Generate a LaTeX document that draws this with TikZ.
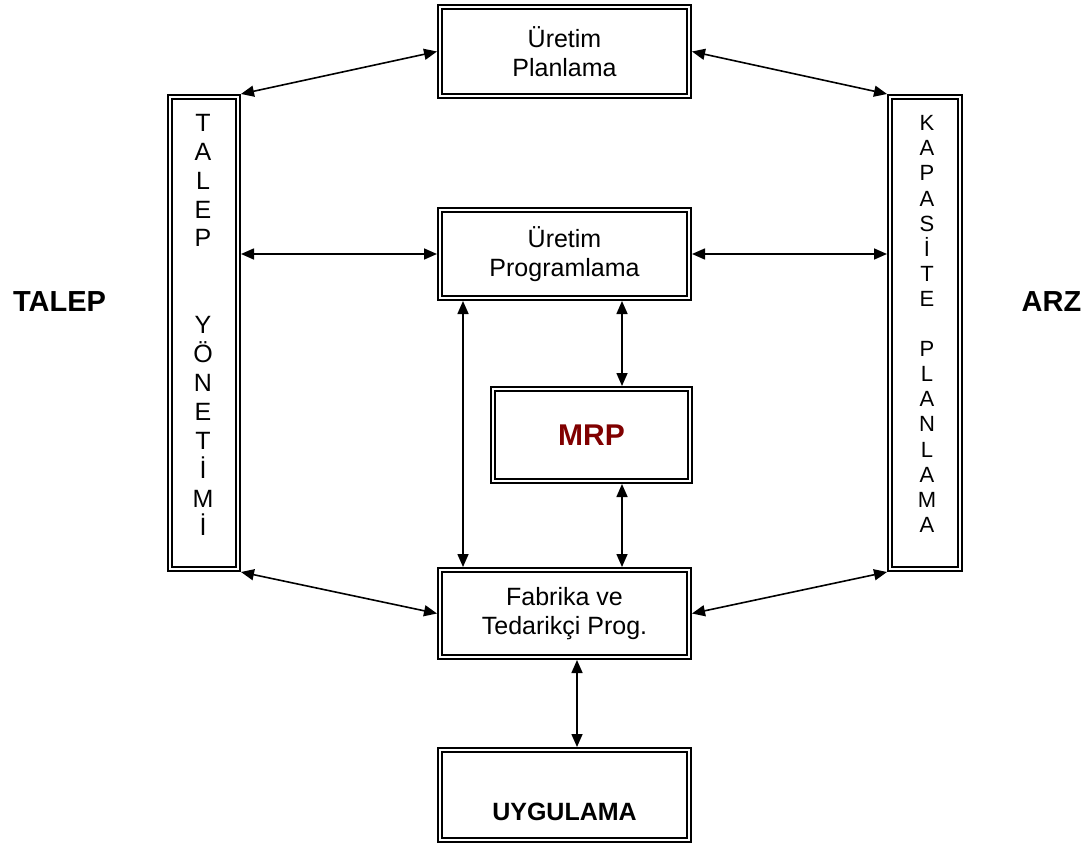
\documentclass[tikz,border=0pt]{standalone}
\usepackage{fontspec}
\setmainfont{Liberation Sans}
\usetikzlibrary{arrows.meta}
\definecolor{mrpred}{RGB}{128,0,0}
\begin{document}
\begin{tikzpicture}[x=1pt,y=-1pt,
  frame/.style={draw, double, line width=2.1pt, double distance=1.8pt,
    outer sep=3pt, inner sep=0pt, fill=white, align=center,
    font=\fontsize{25}{28.5}\selectfont},
  vtext/.style={align=center, inner sep=0pt},
  side/.style={font=\fontsize{29}{33}\selectfont\bfseries},
  link/.style={<->, line width=1.6pt, >={Triangle[length=13pt,width=11pt]}}]
\useasboundingbox (0,0) rectangle (1086,848);

% central column
\node[frame, minimum width=249pt, minimum height=89pt] (plan) at (564.5,51.5) {Üretim\\Planlama};
\node[frame, minimum width=249pt, minimum height=88pt] (prog) at (564.5,254) {Üretim\\Programlama};
\node[frame, minimum width=197pt, minimum height=92pt,
      font=\fontsize{30}{34}\selectfont\bfseries, text=mrpred] (mrp) at (591.5,435) {MRP};
\node[frame, minimum width=249pt, minimum height=87pt] (fab) at (564.5,613.5) {Fabrika ve\\Tedarikçi Prog.};
\node[frame, minimum width=249pt, minimum height=90pt, font=\fontsize{25}{28.5}\selectfont\bfseries]
      (uyg) at (564.5,795) {\raisebox{-25pt}[0pt][0pt]{UYGULAMA}};

% side columns
\node[frame, minimum width=68pt, minimum height=472pt] (tbox) at (204,333) {};
\node[frame, minimum width=70pt, minimum height=472pt] (kbox) at (925,333) {};
\node[vtext, font=\fontsize{25}{28.9}\selectfont] (tlabel) at (203,325)
  {T\\A\\L\\E\\P\\[57.8pt]Y\\Ö\\N\\E\\T\\İ\\M\\İ};
\node[vtext, font=\fontsize{22}{25.1}\selectfont] (klabel) at (927,324)
  {K\\A\\P\\A\\S\\İ\\T\\E\\[25.1pt]P\\L\\A\\N\\L\\A\\M\\A};

\node[side] (talep) at (59.5,302) {TALEP};
\node[side] (arz) at (1051.5,302) {ARZ};

% vertical connector lines
\coordinate (xa) at (463,0);
\coordinate (xb) at (622,0);
\coordinate (xc) at (577,0);

\draw[link] (plan.west) -- (tbox.north east);
\draw[link] (plan.east) -- (kbox.north west);
\draw[link] (prog.west) -- (prog.west -| tbox.east);
\draw[link] (prog.east) -- (prog.east -| kbox.west);
\draw[link] (fab.west) -- (tbox.south east);
\draw[link] (fab.east) -- (kbox.south west);
\draw[link] (prog.south -| xa) -- (fab.north -| xa);
\draw[link] (prog.south -| xb) -- (mrp.north -| xb);
\draw[link] (mrp.south -| xb) -- (fab.north -| xb);
\draw[link] (fab.south -| xc) -- (uyg.north -| xc);
\end{tikzpicture}
\end{document}
